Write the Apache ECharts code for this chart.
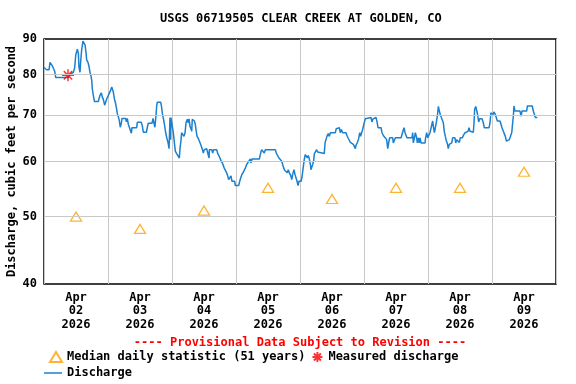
<!DOCTYPE html>
<html><head><meta charset="utf-8">
<script src="https://cdn.jsdelivr.net/npm/echarts@6/dist/echarts.min.js"></script>
<style>html,body{margin:0;padding:0;background:#fff}#c{width:576px;height:384px}</style>
</head><body><div id="c"></div>
<script>
// ---- data ----
const titleText = 'USGS 06719505 CLEAR CREEK AT GOLDEN, CO';
const yAxisTitle = 'Discharge, cubic feet per second';
const provisionalNote = '---- Provisional Data Subject to Revision ----';
const dayLabels = ['Apr\n02\n2026','Apr\n03\n2026','Apr\n04\n2026','Apr\n05\n2026','Apr\n06\n2026','Apr\n07\n2026','Apr\n08\n2026','Apr\n09\n2026'];
const yTicks = [40, 50, 60, 70, 80, 90];
// median daily statistic, one per day (cfs)
const medianDaily = [50, 48, 51, 55, 53, 55, 55, 58];
// measured discharge: [hours since Apr 02 00:00, cfs]
const measured = [[9, 79.8]];
// discharge: [hours since Apr 02 00:00, cfs]
const discharge = [
[0,81.9],[1,81.3],[1.9,81.3],[2.25,83.3],[2.75,83.3],[3.1,82.4],[3.5,81.7],[4,80.9],[4.4,79.2],[9,79.2],
[9.5,79.9],[11,80.6],[11.5,81.8],[11.9,85.3],[12.5,87.0],[12.9,85.8],[13.1,82.1],[13.5,80.6],[13.75,83.5],[14.1,86.7],
[14.6,89.4],[15,89.7],[15.4,88.2],[15.75,86.2],[16,84.0],[16.5,83.3],[16.9,82.1],[17.25,80.6],[17.6,79.7],[17.9,78.5],
[18.1,76.4],[18.5,74.7],[18.9,73.2],[20.4,73.2],[20.6,73.8],[21,74.7],[21.5,75.3],[21.9,74.2],[22.25,73.7],[22.75,72.3],
[23.1,71.9],[23.5,73.8],[24,74.5],[24.75,74.5],[25,76.0],[25.4,76.8],[25.75,76.4],[26,75.5],[26.4,73.8],[26.75,73.0],
[27.1,71.9],[27.5,70.3],[27.9,69.5],[28.25,68.7],[28.6,67.2],[29,68.1],[29.25,69.2],[30.6,69.2],[30.9,68.4],[31.25,69.2],
[31.6,67.9],[32,67.2],[32.4,66.5],[32.75,65.9],[33,67.1],[34.75,67.1],[35,68.3],[36.5,68.3],[36.9,67.4],[37.25,66.1],
[38.4,66.1],[38.75,67.2],[39.1,68.1],[40.5,68.1],[40.9,69.2],[41.25,68.1],[41.6,67.2],[42,69.9],[42.25,72.1],[42.5,73.0],
[43.75,73.0],[44,72.3],[44.4,70.3],[44.75,69.2],[45.1,68.1],[45.6,66.1],[46,65.0],[46.5,63.9],[46.9,62.6],
[47.25,69.4],[47.5,64.5],[47.6,69.4],[48.25,69.4],[48.5,66.0],[48.9,63.8],[49.25,62.1],[49.75,61.6],[50.4,61.2],[50.75,60.7],
[51,62.6],[51.4,64.5],[51.6,66.0],[52,65.6],[52.5,65.2],[52.9,66.0],[53.25,68.2],[53.75,69.0],[54.1,68.2],[54.4,69.1],
[54.75,67.4],[55.1,66.9],[55.4,66.3],[55.6,69.0],[56,69.4],[56.4,68.6],[56.75,67.8],[57,66.7],[57.4,65.2],[57.9,64.7],
[58.25,64.2],[58.6,63.8],[59,63.1],[59.4,62.4],[59.75,61.7],[60.1,62.4],[61,62.6],[61.4,61.7],[61.9,60.7],[62,62.4],
[62.9,62.4],[63.25,61.7],[63.6,62.4],[64.75,62.4],[65.1,61.7],[65.6,61.4],[66,60.7],[66.4,60.1],[66.9,59.7],[67.25,59.4],
[67.6,58.7],[68,58.4],[68.5,57.8],[68.9,57.2],[69.25,56.5],[69.75,56.2],[70.1,57.2],[70.5,56.2],[71.5,56.2],[71.75,55.4],
[73,55.4],[73.4,56.2],[73.75,56.8],[74.25,57.5],[74.75,57.9],[75.1,58.3],[75.5,58.7],[76,59.4],[76.6,59.9],[77,60.1],
[77.4,60.5],[77.6,59.7],[78,60.5],[80.75,60.5],[81.25,61.7],[81.6,62.4],[82.25,62.4],[82.6,61.7],[83,62.4],[86.75,62.4],
[87.1,61.7],[87.6,61.4],[88.1,60.7],[88.6,60.4],[89.1,60.1],[89.5,59.4],[89.9,58.7],[90.25,58.3],[91,58.3],[91.25,57.8],
[91.6,58.4],[92,57.8],[92.5,57.3],[92.9,56.5],[93.25,57.5],[93.75,58.4],[94.1,57.5],
[94.5,57.2],[94.9,56.2],[95.25,55.4],[95.6,56.2],[96.4,56.2],[96.75,57.0],[97.25,59.0],[97.6,60.4],[98,61.4],[98.4,61.5],
[98.75,60.7],[99.1,61.2],[99.5,60.5],[99.9,59.4],[100.1,58.4],[100.5,59.0],[100.75,59.4],[101.1,60.1],[101.4,61.6],[102,61.6],
[102.25,62.4],[102.6,61.9],[103,61.6],[105.1,61.6],[105.4,63.8],[105.75,64.5],[106.1,65.2],[106.6,65.8],[107,65.2],[107.4,66.0],
[109.25,66.0],[109.6,66.9],[110,67.1],[110.75,67.1],[111.1,66.0],[111.5,66.7],[112,66.0],[113.25,66.0],[113.6,65.4],[114,64.9],
[114.5,64.7],[114.9,63.9],[115.5,63.8],[116,63.5],[116.5,63.8],[116.75,62.6],[117,63.3],[117.5,63.9],[118,64.7],[118.4,66.0],
[118.75,65.2],[119.1,66.0],[119.5,66.7],[119.9,67.8],[120.25,68.2],[120.5,69.1],[121,69.4],[122.6,69.4],[123,68.4],[123.4,69.1],
[123.75,69.4],[124.5,69.4],[124.9,68.4],[125.25,67.1],[126.4,67.1],[126.75,66.0],[127.25,65.4],[128,65.4],[128.5,64.5],[128.9,62.6],
[129.25,63.8],[129.6,64.9],[130.75,64.9],[131,63.8],[131.4,64.1],[131.75,64.9],[133.9,64.9],[134.25,65.6],[134.6,66.0],[135,67.1],
[135.4,66.0],[136.1,64.9],[138,64.9],[138.25,66.0],[138.5,63.8],[138.9,64.9],[139.25,66.0],[139.75,64.9],[140,63.8],[140.4,64.9],
[140.75,63.8],
[141,64.9],[141.4,63.8],[142.9,63.8],[143.1,64.9],[143.5,66.0],[143.9,64.9],[144.5,64.9],[144.75,66.0],[145.4,66.0],[145.75,68.6],
[146,67.4],[146.4,66.0],[146.75,67.1],[147.1,68.2],[147.5,69.7],[147.9,72.0],[148.25,70.9],[148.6,70.1],[149,69.4],[149.4,69.0],
[149.75,68.2],[150.1,66.3],[150.5,65.2],[150.9,64.2],[151.25,63.7],[151.6,62.6],[152,63.5],[152.4,63.8],[152.9,63.8],[153.25,64.9],
[154.1,64.9],[154.4,63.8],[154.75,64.5],[155.4,64.9],[155.75,63.9],[156.1,64.9],[156.9,64.9],[157.25,65.4],[157.9,66.0],[158.6,66.0],
[159,66.3],[159.4,67.1],[159.75,66.3],[160.4,66.0],[161,66.1],[161.25,68.2],[161.5,71.3],[161.9,72.0],[162.25,71.1],[162.6,70.1],
[163,68.4],[163.4,69.1],[163.75,69.4],[164.25,69.1],[164.75,68.2],[165.1,67.1],[166.9,67.1],[167.25,68.2],[167.6,70.5],[168,70.9],
[168.4,70.1],[168.75,70.7],[169.25,70.1],[169.6,69.4],[170,68.6],[171,68.6],[171.4,67.8],[171.75,67.1],[172.25,66.3],[172.6,66.0],
[173,65.2],[173.4,64.2],[173.75,64.5],[174.1,63.9],[174.5,64.5],[174.9,65.2],[175.4,66.0],[175.75,68.2],[176,69.7],[176.25,72.1],
[176.6,70.9],[178.5,70.9],[178.9,69.7],[179.25,70.9],[181,70.9],[181.25,72.1],[183.1,72.1],[183.5,70.9],[183.9,70.1],[184.25,69.4],
[185,69.4]
];

// ---- styles ----
const FONT = 'DejaVu Sans Mono';
const txt = {fontFamily: FONT, fontWeight: 'bold', fontSize: 12, color: '#000'};
const GRID_COLOR = '#c8c8c8';
const LINE_COLOR = '#1a80cf';
const MEDIAN_COLOR = '#ffa000';
const MEASURED_COLOR = '#ff0000';
const asterisk = 'path://M6,0L6,12M0,6L12,6M1.8,1.8L10.2,10.2M1.8,10.2L10.2,1.8';

const chart = echarts.init(document.getElementById('c'), null, {renderer: 'canvas'});
chart.setOption({
  animation: false,
  backgroundColor: '#fff',
  title: {text: titleText, left: 160, top: 13, padding: 0, textStyle: Object.assign({}, txt)},
  grid: {left: 44, right: 20, top: 39, bottom: 100, containLabel: false, outerBoundsMode: 'none',
         show: true, borderColor: '#000', borderWidth: 1.5, backgroundColor: 'rgba(0,0,0,0)'},
  xAxis: [
    {type: 'value', min: 0, max: 192, interval: 24, position: 'bottom',
     axisLine: {show: false}, axisTick: {show: false}, axisLabel: {show: false},
     splitLine: {show: true, lineStyle: {color: GRID_COLOR, width: 1}}},
    {type: 'category', data: dayLabels, boundaryGap: true, position: 'bottom',
     axisLine: {show: false}, axisTick: {show: false}, splitLine: {show: false},
     axisLabel: Object.assign({interval: 0, margin: 7, lineHeight: 13.5}, txt)}
  ],
  yAxis: {type: 'log', logBase: 10, min: 40, max: 90,
    axisLine: {show: false}, axisTick: {show: false}, axisLabel: {show: false}, splitLine: {show: false},
    name: yAxisTitle, nameLocation: 'middle', nameGap: 26, nameTextStyle: Object.assign({}, txt)},
  legend: [
    {data: [{name: 'Median daily statistic (51 years)', icon: 'triangle'}, {name: 'Measured discharge', icon: asterisk}],
     left: 49, top: 351, padding: 0, itemWidth: 12, itemHeight: 10, itemGap: 6, textStyle: Object.assign({}, txt)},
    {data: [{name: 'Discharge', icon: 'rect'}], left: 44, top: 367, padding: 0, itemWidth: 18, itemHeight: 1.5, textStyle: Object.assign({}, txt)}
  ],
  graphic: [{type: 'text', x: 300, y: 343, style: {text: provisionalNote, align: 'center', verticalAlign: 'middle', fill: MEASURED_COLOR, font: 'bold 12px "DejaVu Sans Mono"'}}],
  series: [
    {name: 'Median daily statistic (51 years)', type: 'scatter', xAxisIndex: 1, yAxisIndex: 0, z: 2,
     data: medianDaily, symbol: 'triangle', symbolSize: [11, 9],
     itemStyle: {color: 'rgba(0,0,0,0)', borderColor: MEDIAN_COLOR, borderWidth: 1.3},
     markLine: {silent: true, symbol: 'none', animation: false,
       lineStyle: {color: GRID_COLOR, width: 1, type: 'solid'},
       label: Object.assign({show: true, position: 'start', distance: 7, formatter: p => String(p.value)}, txt),
       emphasis: {disabled: true},
       data: yTicks.map(v => ({yAxis: v, lineStyle: (v === 40 || v === 90) ? {color: 'rgba(0,0,0,0)'} : {}}))}},
    {name: 'Discharge', type: 'line', xAxisIndex: 0, yAxisIndex: 0, z: 3,
     data: discharge, symbol: 'none', showSymbol: false,
     lineStyle: {color: LINE_COLOR, width: 1.5}, itemStyle: {color: LINE_COLOR}},
    {name: 'Measured discharge', type: 'scatter', xAxisIndex: 0, yAxisIndex: 0, z: 4,
     data: measured, symbol: asterisk, symbolSize: 12,
     itemStyle: {color: 'rgba(0,0,0,0)', borderColor: MEASURED_COLOR, borderWidth: 1.5}}
  ]
});
</script></body></html>
